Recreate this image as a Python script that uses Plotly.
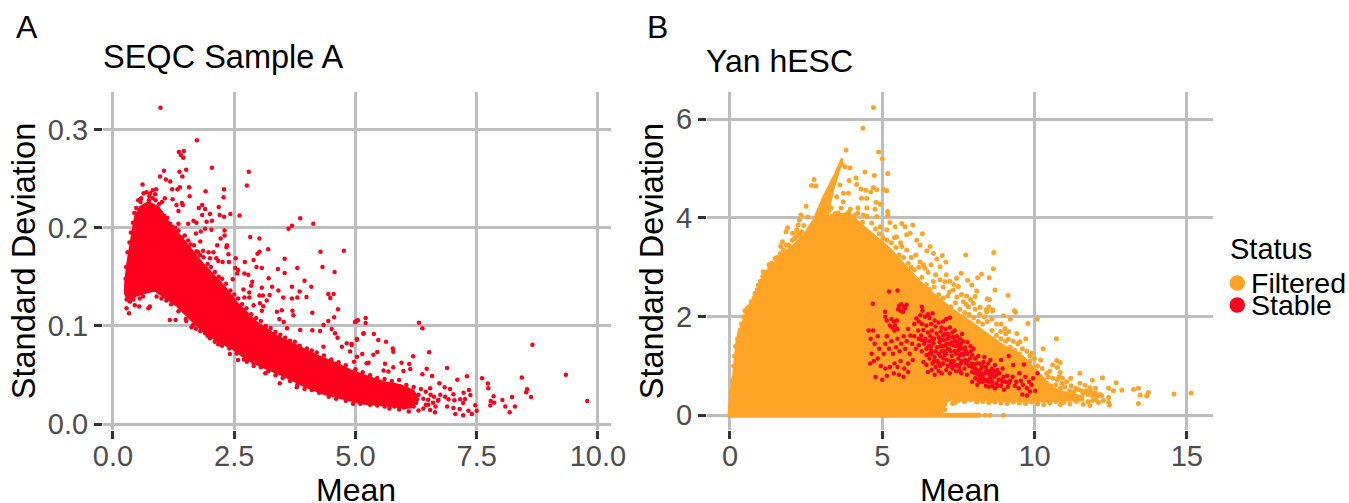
import plotly.graph_objects as go

RED = "#ff001c"
ORANGE = "#ffa426"
GRID = "#bebebe"
W, H = 1349, 503

# Panel A: dense part of the cloud (outline)
a_core = [(0.25,0.143),(0.296,0.164),(0.385,0.191),(0.454,0.211),(0.557,0.221),(0.729,0.226),(0.935,0.221),(1.11,0.208),(1.35,0.194),(1.59,0.179),(1.86,0.163),(2.28,0.141),(2.55,0.124),(2.96,0.104),(3.38,0.090),(3.79,0.080),(4.2,0.070),(4.61,0.062),(4.89,0.055),(5.23,0.049),(5.58,0.043),(5.92,0.040),(6.2,0.034),(6.3,0.025),(6.15,0.017),(6.0,0.0165),(5.58,0.0195),(5.17,0.021),(4.82,0.025),(4.34,0.031),(3.93,0.039),(3.51,0.0495),(3.10,0.058),(2.76,0.066),(2.48,0.0765),(2.14,0.085),(1.86,0.095),(1.59,0.107),(1.31,0.121),(1.07,0.129),(0.867,0.136),(0.695,0.134),(0.488,0.131),(0.316,0.125),(0.248,0.133),(0.25,0.143)]
a_x_core = [p[0] for p in a_core]
a_y_core = [p[1] for p in a_core]

# Panel A: individually visible points
a_points = [(0.98,0.322),(1.73,0.289),(1.36,0.277),(1.46,0.278),(1.40,0.274),(1.45,0.271),(2.04,0.261),(2.80,0.257),(2.76,0.243),(1.05,0.258),(0.97,0.252),(1.37,0.257),(1.51,0.259),(1.43,0.252),(1.09,0.249),(1.18,0.247),(0.61,0.244),(1.22,0.239),(1.33,0.239),(1.38,0.241),(1.57,0.241),(1.91,0.237),(2.29,0.239),(2.28,0.231),(1.58,0.232),(0.82,0.238),(0.89,0.239),(0.77,0.235),(0.87,0.234),(0.57,0.226),(0.74,0.228),(1.07,0.230),(1.23,0.229),(1.01,0.226),(1.42,0.225),(1.31,0.223),(1.44,0.223),(1.84,0.223),(1.77,0.220),(1.90,0.219),(2.18,0.221),(1.35,0.217),(1.84,0.213),(2.0,0.214),(2.2,0.213),(2.29,0.211),(2.42,0.214),(2.61,0.2125),(3.86,0.2095),(3.69,0.202),(3.62,0.199),(4.13,0.204),(1.93,0.206),(1.66,0.207),(1.55,0.204),(1.72,0.205),(2.04,0.207),(1.35,0.204),(1.18,0.204),(1.90,0.199),(2.03,0.198),(2.30,0.197),(1.71,0.194),(1.81,0.196),(2.30,0.192),(2.22,0.189),(1.80,0.186),(2.15,0.182),(2.35,0.182),(2.34,0.180),(2.83,0.1905),(3.02,0.189),(3.20,0.178),(3.02,0.1756),(2.98,0.1736),(4.28,0.1756),(4.76,0.1766),(1.97,0.175),(2.07,0.175),(1.86,0.1766),(1.76,0.175),(2.38,0.173),(2.53,0.169),(2.0,0.169),(2.13,0.169),(2.17,0.166),(2.26,0.165),(2.39,0.165),(2.72,0.165),(2.90,0.167),(3.54,0.1685),(2.96,0.160),(3.07,0.159),(3.40,0.158),(3.80,0.159),(4.32,0.160),(4.57,0.155),(2.52,0.159),(2.58,0.157),(2.56,0.1535),(2.71,0.1535),(2.79,0.152),(3.54,0.154),(2.47,0.1475),(2.87,0.145),(3.21,0.1485),(3.95,0.146),(2.85,0.141),(3.07,0.139),(3.28,0.140),(3.69,0.140),(4.09,0.140),(2.69,0.137),(2.81,0.134),(3.41,0.136),(3.85,0.135),(4.44,0.1325),(4.55,0.1325),(4.48,0.1285),(2.71,0.129),(2.81,0.129),(3.02,0.131),(3.09,0.131),(3.23,0.1315),(3.51,0.129),(3.69,0.128),(3.80,0.129),(3.99,0.1295),(3.17,0.126),(3.03,0.123),(2.90,0.121),(3.10,0.120),(3.07,0.1155),(3.48,0.116),(3.38,0.1145),(3.70,0.1155),(4.64,0.117),(4.11,0.1135),(3.72,0.111),(4.56,0.109),(3.43,0.107),(3.52,0.104),(4.44,0.105),(4.34,0.101),(4.99,0.104),(5.03,0.1055),(5.21,0.108),(5.21,0.103),(3.59,0.0976),(3.86,0.096),(4.11,0.0956),(4.27,0.095),(4.51,0.097),(5.17,0.0925),(4.58,0.0925),(4.63,0.088),(5.03,0.0868),(4.82,0.0824),(4.92,0.0817),(4.72,0.079),(4.89,0.074),(4.34,0.079),(5.03,0.0688),(5.23,0.062),(0.28,0.118),(0.33,0.113),(0.45,0.121),(0.54,0.1197),(0.73,0.118),(0.76,0.1197),(1.17,0.106),(1.29,0.106),(1.51,0.105),(1.62,0.0986),(1.71,0.0973),(1.82,0.0976),(1.90,0.0925),(2.0,0.0875),(2.17,0.0814),(2.41,0.0715),(2.58,0.0654),(2.76,0.0637),(2.90,0.0593),(3.14,0.0519),(3.44,0.0417),(3.79,0.0376),(5.01,0.1044),(5.05,0.1058),(6.31,0.1034),(6.38,0.0976),(5.16,0.0922),(5.38,0.0919),(5.47,0.0858),(5.63,0.084),(5.03,0.086),(4.92,0.0807),(5.77,0.077),(5.78,0.0739),(5.14,0.0715),(5.37,0.0708),(5.45,0.0736),(6.19,0.0692),(6.52,0.0732),(8.65,0.081),(9.34,0.0505),(9.78,0.0237),(4.97,0.0637),(5.27,0.0627),(5.61,0.0617),(5.95,0.0627),(6.11,0.0614),(6.89,0.0573),(6.47,0.0566),(6.13,0.0563),(5.78,0.058),(5.58,0.0546),(5.68,0.0536),(5.99,0.0542),(6.38,0.0508),(6.58,0.0492),(7.30,0.0488),(7.61,0.0468),(7.10,0.0454),(8.43,0.0475),(6.73,0.0417),(7.73,0.0414),(7.74,0.0366),(6.84,0.0376),(6.95,0.0359),(7.34,0.0349),(8.54,0.0356),(8.52,0.0325),(6.54,0.0366),(7.02,0.0305),(7.23,0.0322),(7.37,0.0298),(7.85,0.0285),(8.23,0.0278),(8.62,0.0278),(6.92,0.0254),(7.04,0.0244),(7.16,0.0254),(7.26,0.0258),(7.22,0.0217),(7.79,0.0237),(7.86,0.022),(8.03,0.0247),(7.47,0.0193),(7.78,0.019),(8.09,0.018),(8.29,0.018),(6.89,0.018),(7.02,0.0166),(7.15,0.0156),(7.33,0.0139),(7.50,0.0139),(7.06,0.0105),(7.22,0.0092),(7.40,0.0105),(8.18,0.0122),(6.64,0.0122),(6.54,0.0146),(6.85,0.0281),(6.71,0.0247)]
# Panel A: points crowding the edge of the dense cloud
a_edge = [(0.27,0.16),(0.3,0.175),(0.34,0.185),(0.37,0.195),(0.41,0.205),(0.44,0.215),(0.48,0.22),(0.52,0.228),(0.58,0.23),(0.63,0.235),(0.69,0.236),(0.75,0.232),(0.82,0.23),(0.88,0.228),(0.95,0.224),(1.0,0.215),(1.05,0.212),(1.12,0.21),(1.16,0.203),(1.22,0.201),(1.28,0.2),(1.35,0.197),(1.42,0.19),(1.48,0.192),(1.55,0.187),(1.6,0.183),(1.67,0.182),(1.72,0.176),(1.8,0.172),(1.87,0.17),(1.95,0.163),(2.02,0.16),(2.1,0.155),(2.18,0.15),(2.25,0.148),(2.33,0.143),(2.42,0.136),(2.5,0.132),(2.58,0.128),(2.66,0.122),(2.75,0.118),(2.85,0.112),(2.95,0.108),(3.05,0.105),(3.15,0.1),(3.25,0.098),(3.35,0.094),(3.45,0.091),(3.55,0.088),(3.65,0.085),(3.75,0.084),(3.85,0.08),(4.0,0.077),(4.1,0.075),(4.2,0.073),(4.35,0.07),(4.5,0.066),(4.65,0.063),(4.8,0.06),(5.0,0.056),(5.15,0.053),(5.3,0.05),(5.45,0.047),(5.6,0.046),(5.75,0.044),(5.9,0.045),(6.05,0.04),(6.2,0.038),(6.35,0.036),(6.45,0.033),(6.55,0.03),(6.62,0.028),(6.7,0.024),(6.65,0.018),(6.5,0.02),(6.4,0.016),(6.3,0.014),(6.2,0.018),(6.1,0.013),(6.0,0.017),(5.9,0.015),(5.8,0.018),(5.7,0.016),(5.6,0.018),(5.45,0.019),(5.3,0.02),(5.1,0.021),(4.95,0.021),(4.8,0.024),(4.6,0.026),(4.45,0.028),(4.25,0.032),(4.1,0.035),(3.95,0.036),(3.8,0.04),(3.65,0.044),(3.5,0.047),(3.35,0.05),(3.2,0.054),(3.05,0.058),(2.9,0.062),(2.7,0.066),(2.55,0.072),(2.4,0.077),(2.25,0.08),(2.1,0.084),(1.95,0.09),(1.8,0.095),(1.65,0.101),(1.5,0.107),(1.35,0.115),(1.2,0.122),(1.1,0.126),(1.0,0.128),(0.9,0.13),(0.62,0.13),(0.55,0.128),(0.42,0.127),(0.35,0.125),(0.28,0.127),(0.27,0.135),(0.26,0.148),(6.3,0.03),(6.25,0.022),(6.4,0.026),(6.5,0.025),(6.6,0.022),(6.75,0.03),(6.45,0.02)]
a_x = [p[0] for p in a_points + a_edge]
a_y = [p[1] for p in a_points + a_edge]

# Panel B: dense part of the Filtered cloud (outline)
b_core = [(-0.05,0.0),(0.0,0.38),(0.11,0.85),(0.22,1.53),(0.44,1.93),(0.77,2.4),(1.09,2.81),(1.53,3.15),(2.08,3.45),(2.41,3.65),(2.74,3.96),(3.07,4.43),(3.45,4.9),(3.67,5.21),(3.69,5.18),(3.39,4.57),(3.2,4.05),(3.9,4.1),(4.3,3.88),(4.82,3.6),(5.25,3.38),(5.8,3.01),(6.24,2.71),(6.79,2.41),(7.33,2.14),(7.99,1.86),(8.87,1.46),(9.63,1.19),(10.2,0.8),(10.6,0.55),(11.06,0.46),(11.6,0.38),(11.6,0.3),(11.06,0.3),(10.4,0.28),(9.74,0.28),(9.09,0.28),(8.43,0.31),(7.55,0.3),(7.0,0.38),(7.0,0.18),(6.95,0.03),(8.2,0.03),(8.2,-0.03),(-0.05,-0.03),(-0.05,0.0)]
b_x_core = [p[0] for p in b_core]
b_y_core = [p[1] for p in b_core]

# Panel B: individually visible Filtered points
b_filtered = [(4.71,6.24),(4.37,5.82),(3.81,5.38),(4.88,5.34),(5.0,5.2),(4.43,4.93),(4.74,4.86),(5.18,4.9),(2.76,4.78),(2.68,4.66),(2.82,4.65),(4.14,4.81),(3.91,4.76),(4.16,4.68),(3.61,4.67),(3.94,5.02),(3.78,5.04),(3.67,5.09),(2.5,4.24),(2.33,4.06),(2.28,3.96),(1.89,3.8),(2.24,3.86),(1.84,3.72),(2.19,3.76),(2.06,3.69),(2.3,3.64),(1.72,3.52),(2.1,3.57),(1.67,3.42),(1.92,3.45),(1.48,3.18),(1.28,3.05),(1.09,2.91),(0.93,2.64),(0.82,2.47),(0.57,2.17),(0.49,2.12),(0.33,1.73),(0.44,1.66),(0.22,1.19),(1.37,3.08),(1.59,3.15),(1.86,3.32),(4.3,4.59),(4.46,4.56),(4.62,4.53),(4.71,4.62),(4.82,4.57),(5.04,4.58),(5.15,4.55),(4.32,4.4),(4.49,4.4),(3.72,4.5),(3.5,4.43),(3.89,4.5),(3.72,4.33),(4.8,4.32),(4.93,4.28),(4.2,4.2),(4.49,4.2),(4.76,4.18),(5.18,4.13),(5.18,4.05),(3.32,4.2),(3.45,4.09),(3.89,4.11),(4.11,4.06),(4.38,4.06),(4.82,4.03),(5.25,3.91),(5.64,3.89),(6.0,3.86),(5.42,3.82),(5.75,3.82),(6.32,3.68),(4.93,3.82),(5.15,3.76),(5.8,3.66),(5.91,3.69),(5.47,3.62),(6.13,3.55),(6.24,3.45),(5.64,3.42),(6.57,3.42),(6.46,3.33),(6.68,3.28),(6.97,3.24),(7.74,3.25),(8.66,3.3),(6.79,3.17),(7.09,3.11),(6.24,3.11),(6.9,3.01),(6.4,2.98),(8.65,2.97),(7.59,2.88),(8.26,2.86),(8.13,2.79),(8.51,2.79),(7.44,2.78),(7.8,2.74),(7.22,2.72),(7.06,2.71),(7.94,2.64),(8.7,2.54),(8.1,2.52),(7.5,2.61),(6.68,2.71),(7.33,2.54),(7.77,2.42),(8.46,2.36),(8.05,2.41),(7.99,2.27),(8.21,2.19),(8.43,2.1),(8.63,2.14),(7.83,2.2),(7.66,2.3),(9.13,2.43),(8.45,2.36),(8.52,2.35),(9.34,2.12),(9.38,2.09),(8.62,2.12),(8.41,2.14),(8.98,2.02),(10.09,1.95),(9.78,1.86),(9.2,1.95),(9.03,1.76),(8.89,1.7),(10.72,1.55),(9.42,1.66),(9.14,1.54),(9.71,1.55),(9.52,1.49),(10.28,1.35),(9.91,1.26),(10.73,1.11),(10.84,1.07),(10.6,1.02),(10.75,0.97),(10.2,1.12),(10.84,0.87),(11.49,0.85),(12.23,0.76),(10.8,0.78),(10.45,0.77),(11.19,0.75),(10.92,0.75),(11.9,0.71),(12.68,0.66),(11.49,0.65),(11.66,0.61),(11.82,0.56),(12.0,0.55),(12.43,0.55),(12.59,0.5),(12.87,0.51),(13.25,0.53),(13.41,0.55),(13.47,0.41),(13.74,0.46),(13.68,0.39),(14.58,0.43),(15.14,0.45),(13.41,0.24),(12.43,0.36),(12.43,0.26),(12.46,0.21),(12.26,0.3),(12.1,0.26),(11.82,0.2),(11.6,0.22),(11.38,0.28),(11.16,0.23),(10.95,0.26),(7.39,0.26),(7.31,0.24),(8.98,0.0),(8.54,0.0),(8.38,0.0)]
# Panel B: Filtered points crowding the edge of the dense cloud
b_edge = [(0.03,0.45),(0.08,0.7),(0.12,1.0),(0.15,1.2),(0.18,1.4),(0.25,1.55),(0.3,1.65),(0.38,1.85),(0.45,2.0),(0.55,2.08),(0.62,2.2),(0.7,2.3),(0.8,2.38),(0.9,2.55),(1.0,2.72),(1.08,2.82),(1.2,2.9),(1.3,2.97),(1.42,3.05),(1.55,3.2),(1.65,3.28),(1.75,3.35),(1.85,3.45),(1.95,3.42),(2.05,3.55),(2.15,3.6),(2.22,3.68),(2.35,3.72),(2.42,3.85),(2.55,4.02),(2.9,4.05),(3.05,4.1),(3.15,4.0),(3.25,4.15),(3.4,4.02),(3.55,4.1),(3.65,4.2),(3.8,4.05),(3.95,4.18),(4.05,3.98),(4.2,4.1),(4.35,3.92),(4.5,4.03),(4.65,3.9),(4.78,3.78),(4.9,3.68),(5.02,3.6),(5.15,3.55),(5.3,3.5),(5.45,3.4),(5.55,3.25),(5.7,3.2),(5.85,3.08),(5.95,3.0),(6.05,2.95),(6.15,2.75),(6.3,2.8),(6.45,2.65),(6.55,2.55),(6.7,2.6),(6.85,2.45),(7.0,2.38),(7.15,2.42),(7.25,2.2),(7.4,2.28),(7.55,2.15),(7.7,2.08),(7.85,2.05),(8.0,1.98),(8.15,1.9),(8.3,1.85),(8.45,1.9),(8.6,1.72),(8.75,1.62),(8.9,1.55),(9.05,1.5),(9.2,1.38),(9.35,1.32),(9.5,1.25),(9.62,1.12),(9.75,1.05),(9.85,1.1),(9.98,0.98),(10.05,0.9),(10.2,0.78),(10.3,0.72),(10.4,0.65),(10.55,0.6),(10.7,0.62),(10.85,0.55),(11.0,0.58),(11.15,0.5),(11.3,0.48),(11.45,0.52),(11.6,0.45),(11.75,0.42),(11.9,0.4),(12.05,0.38),(12.2,0.4),(7.5,0.3),(7.7,0.28),(7.9,0.32),(8.1,0.27),(8.3,0.28),(8.5,0.26),(8.7,0.27),(8.9,0.25),(9.1,0.24),(9.3,0.27),(9.5,0.25),(9.7,0.24),(9.9,0.27),(10.1,0.23),(10.3,0.22),(10.5,0.25),(10.7,0.28),(10.85,0.22),(6.79,0.18),(6.95,0.14),(6.73,0.07),(6.9,0.07),(6.62,0.28),(5.4,3.6),(5.6,3.5),(5.8,3.35),(5.95,3.2),(6.1,3.25),(6.2,3.0),(6.35,3.05),(6.5,2.9),(6.6,3.05),(6.75,2.85),(6.9,2.75),(7.0,2.6),(7.1,2.85),(7.2,2.5),(7.35,2.65),(7.45,2.4),(7.6,2.45),(7.75,2.25),(7.9,2.35),(8.05,2.15),(8.2,2.05),(8.35,2.0),(8.5,2.2),(8.6,1.95),(8.75,1.85),(8.9,1.85),(9.05,1.65),(9.15,1.7),(9.3,1.5),(9.45,1.45),(9.6,1.35),(9.75,1.3),(9.85,1.2),(10.0,1.15),(10.1,1.0),(10.25,0.95),(10.4,0.85),(10.5,0.9),(10.6,0.75),(10.75,0.72),(10.9,0.65),(11.05,0.68),(11.2,0.6),(11.35,0.55),(11.55,0.5),(11.7,0.5),(11.85,0.48),(12.0,0.45),(12.15,0.42),(11.9,0.3),(12.0,0.32),(11.75,0.28),(7.05,0.22),(7.1,0.3),(7.2,0.33),(7.05,0.12),(7.35,0.34),(7.8,0.34),(8.2,0.33),(8.6,0.3)]
b_x_filtered = [p[0] for p in b_filtered + b_edge]
b_y_filtered = [p[1] for p in b_filtered + b_edge]

# Panel B: Stable points
b_stable = [(5.22,2.51),(5.5,2.53),(5.55,2.22),(5.62,2.25),(5.7,2.2),(5.75,2.17),(5.6,2.12),(5.68,2.1),(5.52,2.15),(5.8,2.24),(4.69,2.26),(5.09,2.1),(5.1,2.0),(5.15,1.92),(5.3,1.95),(5.38,1.9),(5.42,1.82),(5.33,1.78),(5.48,1.92),(5.25,1.82),(5.4,1.72),(5.5,1.75),(6.3,2.2),(6.32,2.12),(6.4,2.0),(6.25,2.03),(6.5,2.05),(6.55,1.97),(6.65,2.07),(6.72,1.92),(6.2,1.9),(6.12,1.96),(6.05,1.85),(6.3,1.85),(6.45,1.82),(6.6,1.85),(6.75,1.8),(6.85,1.88),(6.95,1.78),(7.0,1.9),(7.1,1.95),(7.22,1.98),(4.55,1.72),(4.62,1.55),(4.7,1.72),(4.75,1.45),(4.85,1.6),(4.9,1.35),(4.65,1.25),(4.72,1.1),(4.6,1.05),(4.85,1.15),(4.95,1.0),(5.05,1.25),(5.1,1.45),(5.15,1.6),(5.22,1.35),(5.3,1.5),(5.35,1.25),(5.45,1.38),(5.5,1.55),(5.57,1.3),(5.62,1.45),(5.7,1.6),(5.75,1.35),(5.8,1.5),(5.85,1.75),(5.92,1.62),(5.9,1.25),(5.98,1.45),(6.05,1.6),(6.1,1.35),(5.1,0.95),(5.25,0.98),(5.4,1.05),(5.5,0.98),(5.6,1.1),(5.72,0.95),(5.85,1.05),(6.0,1.12),(5.15,0.8),(5.38,0.85),(5.55,0.82),(5.7,0.78),(5.85,0.88),(5.0,0.72),(4.78,0.78),(6.18,1.72),(6.28,1.62),(6.35,1.73),(6.42,1.55),(6.5,1.68),(6.58,1.6),(6.63,1.72),(6.7,1.55),(6.78,1.66),(6.85,1.58),(6.92,1.7),(7.0,1.62),(7.08,1.75),(7.15,1.65),(7.22,1.78),(7.3,1.68),(7.38,1.72),(7.45,1.6),(7.55,1.55),(7.62,1.65),(6.2,1.42),(6.3,1.3),(6.38,1.45),(6.45,1.22),(6.52,1.4),(6.6,1.32),(6.68,1.46),(6.72,1.18),(6.8,1.38),(6.88,1.48),(6.95,1.3),(7.02,1.52),(7.08,1.42),(7.15,1.55),(7.2,1.34),(7.28,1.48),(7.35,1.58),(7.42,1.4),(7.5,1.32),(7.58,1.45),(7.65,1.5),(7.72,1.38),(7.8,1.48),(7.9,1.4),(8.0,1.35),(6.35,1.08),(6.45,1.02),(6.55,1.15),(6.65,1.05),(6.75,0.98),(6.82,1.1),(6.9,1.2),(6.98,1.05),(7.05,1.22),(7.12,1.12),(7.2,1.02),(7.28,1.2),(7.35,1.1),(7.42,1.25),(7.5,1.15),(7.58,1.05),(7.65,1.22),(7.72,1.12),(7.8,1.25),(7.88,1.15),(7.95,1.22),(8.05,1.15),(8.15,1.2),(6.5,0.88),(6.62,0.92),(6.72,0.82),(6.85,0.9),(6.95,0.85),(7.1,0.92),(7.22,0.85),(7.3,0.95),(7.42,0.9),(7.52,0.98),(7.6,0.85),(7.7,0.95),(7.78,0.82),(7.85,1.0),(7.95,0.88),(8.02,1.02),(8.1,0.92),(8.18,1.05),(8.25,0.95),(8.32,1.08),(8.4,0.98),(8.48,1.05),(8.55,1.12),(8.35,1.18),(8.6,0.95),(8.7,1.02),(8.78,0.92),(8.85,0.85),(8.95,0.95),(7.95,0.68),(8.05,0.75),(8.12,0.62),(8.22,0.78),(8.3,0.68),(8.38,0.85),(8.45,0.72),(8.52,0.82),(8.6,0.68),(8.68,0.78),(8.75,0.65),(8.82,0.72),(8.9,0.6),(8.98,0.78),(9.05,0.68),(9.12,0.58),(9.2,0.7),(9.28,0.78),(9.0,0.52),(8.5,0.58),(8.7,0.55),(8.4,0.6),(9.4,0.68),(9.48,0.55),(9.55,0.7),(9.62,0.62),(9.7,0.78),(9.75,0.55),(9.82,0.68),(9.9,0.62),(9.95,0.75),(10.02,0.5),(9.6,0.42),(9.75,0.4),(9.85,0.48),(10.1,0.85),(9.65,1.03),(9.15,1.2),(8.9,1.12),(9.3,1.02),(9.5,0.85),(6.4,1.5),(6.55,1.5),(6.62,1.25),(6.75,1.3),(6.85,1.25),(6.92,1.4),(7.0,1.4),(7.05,1.3),(7.12,1.45),(7.18,1.6),(7.25,1.3),(7.32,1.42),(7.4,1.5),(7.48,1.45),(7.55,1.22),(7.62,1.35),(7.7,1.25),(7.3,1.05),(7.45,1.02),(7.1,1.25),(7.0,1.15),(6.85,1.05),(7.55,0.9),(7.75,1.05),(7.95,1.05),(8.1,1.05),(8.25,0.85),(8.15,0.82),(8.05,0.85),(8.3,0.78),(8.45,0.9),(8.6,0.82),(8.75,0.82),(8.9,0.72),(9.1,0.8),(8.35,0.72),(8.55,0.75),(8.65,0.9),(8.4,0.7),(8.2,0.68),(6.6,1.4),(6.65,1.55),(6.9,1.55),(7.05,1.65),(7.15,1.35),(7.22,1.45),(7.3,1.58),(7.38,1.3),(7.45,1.5),(7.55,1.38),(7.6,1.25),(7.75,1.3),(7.25,1.1),(7.35,1.0),(7.15,1.0),(7.6,1.1),(7.8,1.1),(7.9,1.3),(7.95,0.98),(8.05,0.95),(8.2,0.9),(8.28,1.0),(8.4,0.88),(8.55,0.9),(8.72,0.9),(8.5,0.68),(8.25,0.72),(8.15,0.72),(8.62,0.6),(8.8,0.6),(8.95,0.68),(9.15,0.65),(9.35,0.6),(7.0,1.05),(6.9,1.0),(6.7,1.1),(6.55,1.25),(6.45,1.35),(6.3,1.52),(6.2,1.55)]
b_x_stable = [p[0] for p in b_stable]
b_y_stable = [p[1] for p in b_stable]

a_xticks = [0.0, 2.5, 5.0, 7.5, 10.0]
a_yticks = [0.0, 0.1, 0.2, 0.3]
b_xticks = [0, 5, 10, 15]
b_yticks = [0, 2, 4, 6]
status_labels = ["Filtered", "Stable"]
status_colors = [ORANGE, RED]

FONT = "Liberation Sans"

def px(x):
    return x / W

def py(y):
    return 1 - y / H

fig = go.Figure()

def core(x, y, color, xa, ya, name):
    fig.add_trace(go.Scatter(x=x, y=y, mode="lines", fill="toself", fillcolor=color,
                             line=dict(color=color, width=2), xaxis=xa, yaxis=ya,
                             name=name, showlegend=False, hoverinfo="skip"))

def pts(x, y, color, xa, ya, name, size=4):
    fig.add_trace(go.Scatter(x=x, y=y, mode="markers", marker=dict(color=color, size=size, line=dict(width=0)),
                             xaxis=xa, yaxis=ya, name=name, showlegend=False))

core(a_x_core, a_y_core, RED, "x", "y", "Stable")
pts(a_x, a_y, RED, "x", "y", "Stable", 4.5)
core(b_x_core, b_y_core, ORANGE, "x2", "y2", "Filtered")
pts(b_x_filtered, b_y_filtered, ORANGE, "x2", "y2", "Filtered", 5)
pts(b_x_stable, b_y_stable, RED, "x2", "y2", "Stable", 4.5)

def xaxis(domain, rng, ticks, fmt, anchor):
    return dict(domain=domain, range=rng, tickvals=ticks, ticktext=fmt, anchor=anchor,
                showgrid=True, gridcolor=GRID, gridwidth=3, zeroline=False, showline=False,
                ticks="outside", ticklen=8, tickwidth=2.5, tickcolor="#333333", ticklabelstandoff=-8,
                tickfont=dict(family=FONT, size=29, color="#4d4d4d"))

def yaxis(domain, rng, ticks, fmt, anchor):
    return dict(domain=domain, range=rng, tickvals=ticks, ticktext=fmt, anchor=anchor,
                showgrid=True, gridcolor=GRID, gridwidth=3, zeroline=False, showline=False,
                ticks="outside", ticklen=8, tickwidth=2.5, tickcolor="#333333",
                tickfont=dict(family=FONT, size=29, color="#4d4d4d"),
                title=dict(text="Standard Deviation", font=dict(family=FONT, size=32.5, color="black"), standoff=2))

ann = []
def text(x, y, s, size, anchor="left"):
    ann.append(dict(x=px(x), y=py(y), xref="paper", yref="paper", text=s, showarrow=False,
                    xanchor=anchor, yanchor="middle", borderpad=0, font=dict(family=FONT, size=size, color="black")))

text(15, 27, "A", 32)
text(102, 57, "SEQC Sample A", 32.5)
text(646, 27, "B", 32)
text(705, 61, "Yan hESC", 32)
text(1229, 249, "Status", 29)
text(1250, 283, status_labels[0], 28.5)
text(1250, 305, status_labels[1], 28.5)
text(356, 490, "Mean", 32, "center")
text(960, 490, "Mean", 32, "center")

shapes = []
for cy, c in zip([283, 305], status_colors):
    shapes.append(dict(type="circle", xref="paper", yref="paper", x0=px(1229.5), x1=px(1245),
                       y0=py(cy + 7.7), y1=py(cy - 7.7), fillcolor=c, line=dict(width=0)))

fig.update_layout(
    width=W, height=H, margin=dict(l=0, r=0, t=0, b=0, autoexpand=False), autosize=False,
    paper_bgcolor="white", plot_bgcolor="white", showlegend=False,
    font=dict(family=FONT),
    xaxis=xaxis([px(103), px(611)], [-0.206, 10.27], a_xticks, ["0.0", "2.5", "5.0", "7.5", "10.0"], "y"),
    yaxis=yaxis([py(430), py(92)], [-0.0058, 0.338], a_yticks, ["0.0", "0.1", "0.2", "0.3"], "x"),
    xaxis2=xaxis([px(707), px(1213)], [-0.755, 15.86], b_xticks, ["0", "5", "10", "15"], "y2"),
    yaxis2=yaxis([py(430), py(92)], [-0.298, 6.554], b_yticks, ["0", "2", "4", "6"], "x2"),
    annotations=ann, shapes=shapes,
)

fig.write_html("out.html", post_script="document.body.style.margin='0';", config=dict(displayModeBar=False))
